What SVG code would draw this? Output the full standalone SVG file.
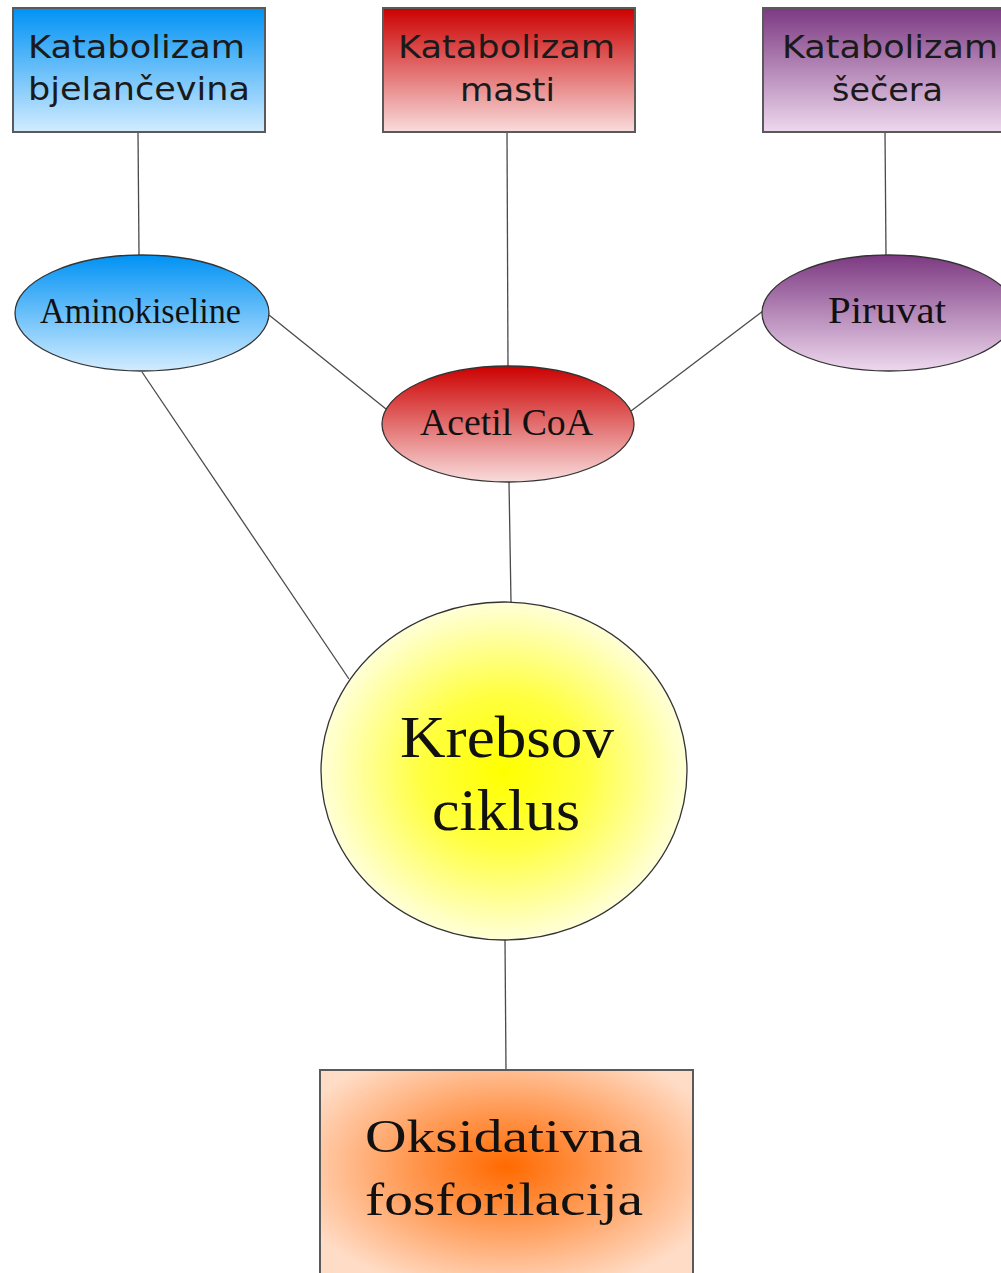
<svg xmlns="http://www.w3.org/2000/svg" width="1001" height="1273" viewBox="0 0 1001 1273">
<style>
.box{stroke:#5a5a5a;stroke-width:2}
.ell{stroke:#333;stroke-width:1.3}
.conn line{stroke:#4a4a4a;stroke-width:1.3}
.sans{font-family:"DejaVu Sans","Verdana",sans-serif;font-size:32px;fill:#1a1a1a}
.serif{font-family:"Liberation Serif","Times New Roman",serif;fill:#111}
</style>
<defs>
<linearGradient id="gBlue" x1="0" y1="0" x2="0" y2="1"><stop offset="0" stop-color="#0092f4"/><stop offset="1" stop-color="#d2ecff"/></linearGradient>
<linearGradient id="gRed" x1="0" y1="0" x2="0" y2="1"><stop offset="0" stop-color="#cc0000"/><stop offset="1" stop-color="#f9dcdc"/></linearGradient>
<linearGradient id="gPurple" x1="0" y1="0" x2="0" y2="1"><stop offset="0" stop-color="#7c3982"/><stop offset="1" stop-color="#eed8ee"/></linearGradient>
<radialGradient id="gYellow" cx="0.5" cy="0.5" r="0.5"><stop offset="0" stop-color="#ffff00"/><stop offset="0.45" stop-color="#ffff40"/><stop offset="1" stop-color="#ffffd8"/></radialGradient>
<radialGradient id="gOrange" cx="0.5" cy="0.45" r="0.6"><stop offset="0" stop-color="#ff6a00"/><stop offset="0.45" stop-color="#ff9a55"/><stop offset="1" stop-color="#ffdcc6"/></radialGradient>
</defs>
<g id="connectors" class="conn">
<line x1="138" y1="132" x2="139" y2="255"/>
<line x1="507" y1="132" x2="508" y2="366"/>
<line x1="885" y1="132" x2="886" y2="255"/>
<line x1="269" y1="315" x2="386" y2="409"/>
<line x1="763" y1="311" x2="631" y2="411"/>
<line x1="142" y1="372" x2="349" y2="679"/>
<line x1="509" y1="482" x2="511" y2="602"/>
<line x1="505" y1="940" x2="506" y2="1070"/>
</g>
<g id="kat-bjelancevina">
<rect class="box" x="13" y="8" width="252" height="124" fill="url(#gBlue)"/>
<text class="sans" x="28" y="58" textLength="217" lengthAdjust="spacingAndGlyphs">Katabolizam</text>
<text class="sans" x="28" y="100" textLength="222" lengthAdjust="spacingAndGlyphs">bjelančevina</text>
</g>
<g id="kat-masti">
<rect class="box" x="383" y="8" width="252" height="124" fill="url(#gRed)"/>
<text class="sans" x="398" y="58" textLength="217" lengthAdjust="spacingAndGlyphs">Katabolizam</text>
<text class="sans" x="460" y="101" textLength="95" lengthAdjust="spacingAndGlyphs">masti</text>
</g>
<g id="kat-secera">
<rect class="box" x="763" y="8" width="252" height="124" fill="url(#gPurple)"/>
<text class="sans" x="782" y="58" textLength="216" lengthAdjust="spacingAndGlyphs">Katabolizam</text>
<text class="sans" x="832" y="101" textLength="111" lengthAdjust="spacingAndGlyphs">šečera</text>
</g>
<g id="aminokiseline">
<ellipse class="ell" cx="142" cy="313" rx="127" ry="58" fill="url(#gBlue)"/>
<text class="serif" x="40" y="323" font-size="36" textLength="201" lengthAdjust="spacingAndGlyphs">Aminokiseline</text>
</g>
<g id="piruvat">
<ellipse class="ell" cx="889" cy="313" rx="127" ry="58" fill="url(#gPurple)"/>
<text class="serif" x="828" y="323" font-size="37" textLength="118" lengthAdjust="spacingAndGlyphs">Piruvat</text>
</g>
<g id="acetil-coa">
<ellipse class="ell" cx="508" cy="424" rx="126" ry="58" fill="url(#gRed)"/>
<text class="serif" x="420" y="435" font-size="37" textLength="173" lengthAdjust="spacingAndGlyphs">Acetil CoA</text>
</g>
<g id="krebsov-ciklus">
<ellipse class="ell" cx="504" cy="771" rx="183" ry="169" fill="url(#gYellow)"/>
<text class="serif" x="400" y="757" font-size="60" textLength="214" lengthAdjust="spacingAndGlyphs">Krebsov</text>
<text class="serif" x="432" y="830" font-size="60" textLength="148" lengthAdjust="spacingAndGlyphs">ciklus</text>
</g>
<g id="oksidativna-fosforilacija">
<rect class="box" x="320" y="1070" width="373" height="215" fill="url(#gOrange)"/>
<text class="serif" x="365" y="1152" font-size="46" textLength="278" lengthAdjust="spacingAndGlyphs">Oksidativna</text>
<text class="serif" x="365" y="1215" font-size="46" textLength="278" lengthAdjust="spacingAndGlyphs">fosforilacija</text>
</g>
</svg>
